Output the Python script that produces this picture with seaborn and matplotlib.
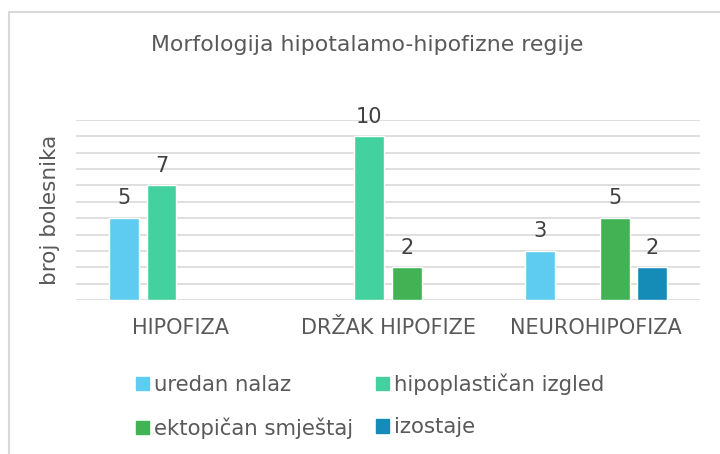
import numpy as np
import pandas as pd
import matplotlib
matplotlib.use("Agg")
import matplotlib.pyplot as plt
import seaborn as sns
from matplotlib.patches import Rectangle

# chart data
categories = ["HIPOFIZA", "DRŽAK HIPOFIZE", "NEUROHIPOFIZA"]
series = ["uredan nalaz", "hipoplastičan izgled", "ektopičan smještaj", "izostaje"]
uredan = [5, np.nan, 3]
hipoplasticno = [7, 10, np.nan]
ektopicno = [np.nan, 2, 5]
izostaje = [np.nan, np.nan, 2]
colors = ["#5ECBF0", "#43D1A0", "#42B254", "#148CB7"]

title = "Morfologija hipotalamo-hipofizne regije"
ylabel = "broj bolesnika"

rows = []
for name, vals in zip(series, [uredan, hipoplasticno, ektopicno, izostaje]):
    for cat, v in zip(categories, vals):
        rows.append({"kategorija": cat, "nalaz": name, "broj": v})
df = pd.DataFrame(rows).dropna()

sns.set_theme(style="white")
plt.rcParams["font.family"] = ["DejaVu Sans"]
text_col = "#595959"

fig = plt.figure(figsize=(7.2, 4.54), dpi=100)
ax = fig.add_axes([0.106, 0.339, 0.866, 0.397])

sns.barplot(data=df, x="kategorija", y="broj", hue="nalaz",
            order=categories, hue_order=series, palette=colors,
            width=0.72, gap=0.2, saturation=1, legend=False, ax=ax)

for cont in ax.containers:
    ax.bar_label(cont, fmt="%d", padding=7, fontsize=15, color="#404040")

ax.set_ylim(0, 11)
ax.set_yticks(range(0, 12))
ax.set_yticklabels([])
ax.tick_params(axis="y", length=0)
ax.tick_params(axis="x", length=0, pad=13, labelsize=15, labelcolor=text_col)
ax.grid(axis="y", color="#D9D9D9", linewidth=1.2)
ax.set_axisbelow(True)
for s in ax.spines.values():
    s.set_visible(False)
ax.set_xlabel("")
ax.set_ylabel(ylabel, fontsize=15.5, color=text_col, labelpad=8)
ax.set_xlim(-0.5, 2.5)

fig.text(0.51, 0.901, title, ha="center", va="center", fontsize=15.8, color=text_col)

# legend, filled row by row
handles = [Rectangle((0, 0), 1, 1, color=c) for c in colors]
order = [0, 2, 1, 3]
fig.legend([handles[i] for i in order], [series[i] for i in order],
           ncol=2, loc="upper left", bbox_to_anchor=(0.177, 0.196),
           frameon=False, fontsize=15.3, labelcolor=text_col,
           handlelength=0.6, handleheight=0.6, handletextpad=0.24,
           labelspacing=1.05, columnspacing=1.08, borderaxespad=0)

# chart frame
fig.add_artist(Rectangle((8.5 / 720, -0.1), 2, 1.1 - 12 / 454, transform=fig.transFigure,
                         fill=False, edgecolor="#D9D9D9", linewidth=1.5))

fig.savefig("out.png", dpi=100)
